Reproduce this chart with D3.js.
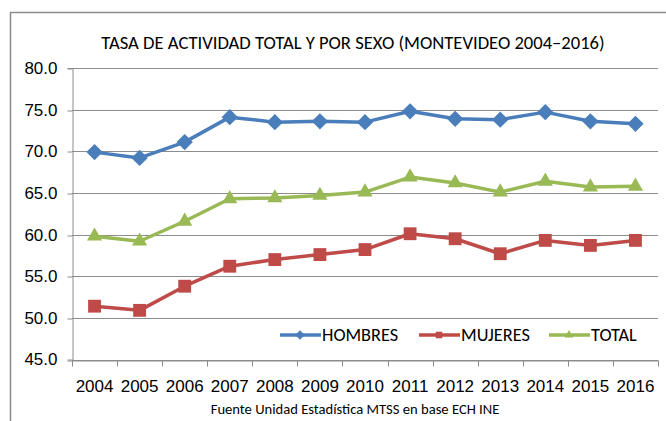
<!DOCTYPE html>
<html>
<head>
<meta charset="utf-8">
<script src="https://cdn.jsdelivr.net/npm/d3@7"></script>
<style>
  body { margin: 0; background: #fff; }
  svg { display: block; font-family: Carlito, "Liberation Sans Narrow", "Liberation Sans", sans-serif; }
</style>
</head>
<body>
<div id="chart"></div>
<script>
// chart data
const years = ["2004", "2005", "2006", "2007", "2008", "2009", "2010", "2011", "2012", "2013", "2014", "2015", "2016"];
const hombres = [69.9, 69.2, 71.1, 74.1, 73.5, 73.6, 73.5, 74.8, 73.9, 73.8, 74.7, 73.6, 73.3];
const mujeres = [51.4, 50.9, 53.8, 56.2, 57.0, 57.6, 58.2, 60.1, 59.5, 57.7, 59.3, 58.7, 59.3];
const total = [59.8, 59.2, 61.6, 64.3, 64.4, 64.7, 65.1, 66.9, 66.2, 65.1, 66.4, 65.7, 65.8];
const yTicks = [45, 50, 55, 60, 65, 70, 75, 80];
const seriesNames = ["HOMBRES", "MUJERES", "TOTAL"];

const series = [
  {name: seriesNames[0], values: hombres, color: "#4a7ebb", symbol: d3.symbolDiamond2, size: 170},
  {name: seriesNames[1], values: mujeres, color: "#be4b48", symbol: d3.symbolSquare2, size: 210},
  {name: seriesNames[2], values: total, color: "#98b954", symbol: d3.symbolTriangle2, size: 165}
];

const W = 666, H = 421;
const margin = {top: 68, right: 8, bottom: 62, left: 72};

const svg = d3.select("#chart").append("svg")
    .attr("width", W)
    .attr("height", H);

// outer frame (right and bottom edges fall outside the picture)
svg.append("rect")
    .attr("x", 10.5).attr("y", 12.5)
    .attr("width", 700).attr("height", 440)
    .attr("fill", "none")
    .attr("stroke", "#8c8c8c")
    .attr("stroke-width", 1.5);

const x = d3.scaleBand().domain(years).range([margin.left, W - margin.right]);
const y = d3.scaleLinear().domain([45, 80]).range([H - margin.bottom + 0.5, margin.top]);

// title
svg.append("text")
    .attr("x", 353).attr("y", 49)
    .attr("text-anchor", "middle")
    .attr("font-size", "18.6px")
    .attr("fill", "#000")
    .text("TASA DE ACTIVIDAD TOTAL Y POR SEXO (MONTEVIDEO 2004\u20132016)");

// gridlines
svg.append("g").selectAll("line")
    .data(yTicks)
    .join("line")
    .attr("x1", margin.left).attr("x2", W - margin.right)
    .attr("y1", d => Math.round(y(d)) + 0.5).attr("y2", d => Math.round(y(d)) + 0.5)
    .attr("stroke", "#8c8c8c").attr("stroke-width", 1);

// y axis
const yAxis = svg.append("g")
    .attr("transform", `translate(${margin.left + 0.5},0)`)
    .call(d3.axisLeft(y).tickValues(yTicks).tickFormat(d3.format(".1f")).tickSize(5).tickPadding(10));
yAxis.select(".domain").attr("stroke", "#8c8c8c");
yAxis.selectAll(".tick line").attr("stroke", "#8c8c8c")
    .attr("transform", d => `translate(0,${Math.round(y(d)) + 0.5 - y(d)})`);
yAxis.selectAll("text").attr("font-size", "17px").attr("fill", "#000").attr("font-family", null);

// x axis
const xAxis = svg.append("g")
    .attr("transform", `translate(0,${Math.round(y(45)) + 0.5})`)
    .call(d3.axisBottom(x).tickSize(0).tickPadding(19));
xAxis.select(".domain").attr("stroke", "#8c8c8c");
xAxis.selectAll("text").attr("font-size", "17px").attr("fill", "#000").attr("font-family", null);

// tick marks between categories
xAxis.selectAll(".sep")
    .data(years.concat(["end"]))
    .join("line")
    .attr("x1", (d, i) => Math.round(margin.left + i * x.step()) + 0.5)
    .attr("x2", (d, i) => Math.round(margin.left + i * x.step()) + 0.5)
    .attr("y1", 0).attr("y2", 6)
    .attr("stroke", "#8c8c8c");

// lines and markers
const line = d3.line()
    .x((d, i) => x(years[i]) + x.bandwidth() / 2)
    .y(d => y(d));

series.forEach(s => {
  svg.append("path")
      .datum(s.values)
      .attr("d", line)
      .attr("fill", "none")
      .attr("stroke", s.color)
      .attr("stroke-width", 3.5)
      .attr("stroke-linejoin", "round");

  svg.append("g").selectAll("path")
      .data(s.values)
      .join("path")
      .attr("transform", (d, i) => `translate(${x(years[i]) + x.bandwidth() / 2},${y(d)})`)
      .attr("d", d3.symbol().type(s.symbol).size(s.size))
      .attr("fill", s.color);
});

// legend
const legendX = [280, 419, 549];
const legend = svg.append("g").attr("transform", "translate(0,335)");
series.forEach((s, i) => {
  const g = legend.append("g").attr("transform", `translate(${legendX[i]},0)`);
  g.append("line")
      .attr("x1", 0).attr("x2", 41)
      .attr("stroke", s.color).attr("stroke-width", 3.5);
  g.append("path")
      .attr("transform", "translate(20,0)")
      .attr("d", d3.symbol().type(s.symbol).size(55))
      .attr("fill", s.color);
  g.append("text")
      .attr("x", 42).attr("y", 6)
      .attr("font-size", "18.3px")
      .attr("fill", "#000")
      .text(s.name);
});

// source note
svg.append("text")
    .attr("x", 355).attr("y", 414)
    .attr("text-anchor", "middle")
    .attr("font-size", "14.6px")
    .attr("fill", "#000")
    .text("Fuente Unidad Estadística MTSS en base ECH INE");
</script>
</body>
</html>
